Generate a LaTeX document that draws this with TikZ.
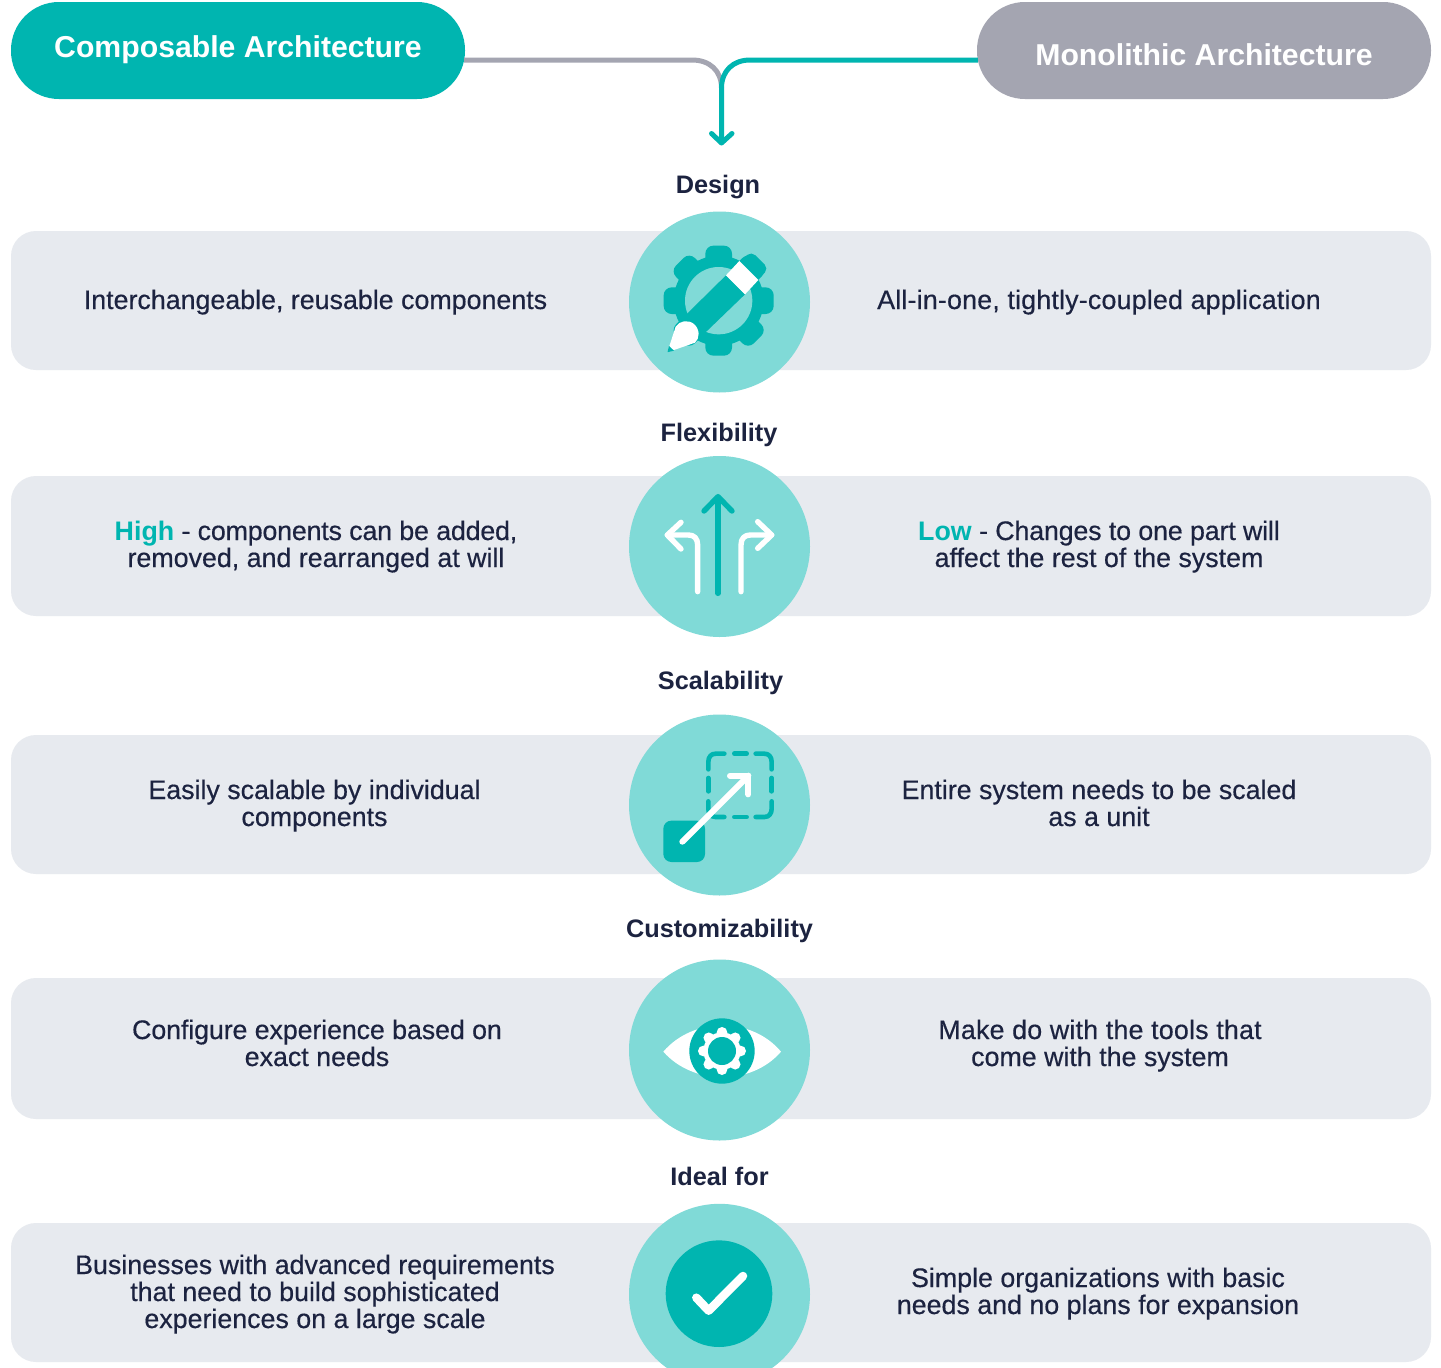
\documentclass[tikz,border=0pt]{standalone}
\usepackage{fontspec}
\setmainfont{Liberation Sans}
\newfontfamily\medfont[FakeBold=0.45]{Liberation Sans}
\newcommand\lst{\rule[-7pt]{0pt}{27pt}}
\newcommand\spc[1]{\addfontfeature{LetterSpace=#1}}
\newcommand\hilite[1]{{\color{teal1}\normalfont\bfseries #1}}
\definecolor{teal1}{HTML}{00B5B0}
\definecolor{teal2}{HTML}{80DAD7}
\definecolor{band}{HTML}{E7EAEF}
\definecolor{greyh}{HTML}{A4A5B1}
\definecolor{ink}{HTML}{1C2340}
\tikzset{
  bandbox/.style={fill=band,rounded corners=25pt,minimum width=1420pt,inner sep=0pt},
  pill/.style={rounded corners=48pt,minimum width=454pt,minimum height=97pt,inner sep=0pt},
  disc/.style={circle,fill=teal2,minimum size=181pt,inner sep=0pt},
  cell/.style={text=ink,align=center,inner sep=0pt,font=\fontsize{26.8}{27}\selectfont\medfont},
  heading/.style={text=ink,inner sep=0pt,font=\fontsize{25.3}{27}\selectfont\bfseries},
  headtxt/.style={text=white,inner sep=0pt,font=\fontsize{30.2}{32}\selectfont\bfseries},
  conn/.style={line width=5pt,line cap=round,line join=round},
  iconz/.style={x=.33333pt,y=-.33333pt},
  thick5/.style={line width=5.4pt,line cap=round,line join=round},
}
\begin{document}
\begin{tikzpicture}[x=1pt,y=-1pt]
\clip (0,0) rectangle (1441,1368);
\fill[white] (0,0) rectangle (1441,1368);
% bands
\node[bandbox,minimum height=139pt] (b1) at (721,300.5) {};
\node[bandbox,minimum height=140pt] (b2) at (721,546) {};
\node[bandbox,minimum height=139pt] (b3) at (721,804.5) {};
\node[bandbox,minimum height=141pt] (b4) at (721,1048.5) {};
\node[bandbox,minimum height=139pt] (b5) at (721,1292.5) {};
% discs
\node[disc] (c1) at (719.5,302) {};
\node[disc] (c2) at (719.5,546.5) {};
\node[disc] (c3) at (719.5,805) {};
\node[disc] (c4) at (719.5,1050) {};
\node[disc] (c5) at (719.5,1294.3) {};
% header pills
\node[pill,fill=teal1] (hA) at (238,50.5) {};
\node[pill,fill=greyh] (hB) at (1204,50.5) {};
\node[headtxt] (tA) at (238,50) {Composable Architecture};
\node[headtxt] (tB) at (1204,55) {Monolithic Architecture};
% connectors
\coordinate (jn) at (721.5,88);
\coordinate (tip) at (721.5,143);
\draw[conn,greyh,line cap=butt] ([shift={(-1pt,-9.5pt)}]hA.east) -- (692,60) .. controls (710,60) and (721.5,71) .. (jn);
\draw[conn,teal1,line cap=butt] ([shift={(1pt,-9.5pt)}]hB.west) -- (750,60) .. controls (733,60) and (721.5,71) .. (jn) -- (tip);
\draw[conn,teal1] (711.5,133.5) -- (tip) -- (732,133.5);
% headings
\node[heading] (h1) at (718,187) {Design};
\node[heading] (h2) at (719,435) {Flexibility};
\node[heading] (h3) at (720.5,683) {Scalability};
\node[heading] (h4) at (719.5,931) {Customizability};
\node[heading] (h5) at (719.5,1176) {Ideal for};
% cell text
\node[cell] (l1) at (315.5,302.5) {\lst Interchangeable, reusable components};
\node[cell] (r1) at (1099,302.5) {\spc{0.73}\lst All-in-one, tightly-coupled application};
\node[cell] (l2) at (316,547) {\spc{-0.7}\lst\hilite{High} - components can be added,\\\lst removed, and rearranged at will};
\node[cell] (r2) at (1099,547) {\spc{-0.6}\lst\hilite{Low} - Changes to one part will\\\lst affect the rest of the system};
\node[cell] (l3) at (314.5,806) {\lst Easily scalable by individual\\\lst components};
\node[cell] (r3) at (1099,806) {\lst Entire system needs to be scaled\\\lst as a unit};
\node[cell] (l4) at (317,1046) {\spc{-0.4}\lst Configure experience based on\\\lst exact needs};
\node[cell] (r4) at (1100,1046) {\spc{0.8}\lst Make do with the tools that\\\lst come with the system};
\node[cell] (l5) at (315,1294.5) {\lst Businesses with advanced requirements\\\lst that need to build sophisticated\\\lst experiences on a large scale};
\node[cell] (r5) at (1098,1294) {\lst Simple organizations with basic\\\lst needs and no plans for expansion};
% icon 1: gear and pencil
\begin{scope}[shift={(620,200)},iconz]
  \foreach \a in {0,45,...,315}
    \fill[teal1,rotate around={\a:(296,302)},rounded corners=8pt] (256,137) rectangle (336,230);
  \fill[teal1] (296,302) circle[radius=135];
  \fill[teal2] (296,302) circle[radius=101];
  \fill[teal1,rounded corners=5pt] (358,183) -- (395,155) -- (445,205) -- (415,240) -- cycle;
  \fill[teal1] (318,226) -- (375,283) -- (235,418) -- (180,362) -- cycle;
  \fill[white] (358,183) -- (415,240) -- (375,283) -- (318,226) -- cycle;
  \fill[white] (142,457) -- (167,380) .. controls (178,362) and (205,358) .. (222,372) .. controls (240,388) and (240,415) .. (225,428) -- cycle;
  \fill[teal1] (142,457) -- (147,438) -- (162,452) -- cycle;
\end{scope}
% icon 2: three arrows
\begin{scope}[shift={(620,450)},iconz]
  \draw[thick5,teal1] (294,430) -- (294,142);
  \draw[thick5,teal1] (252,183) -- (294,140) -- (336,183);
  \draw[thick5,white] (233,425) -- (233,285) .. controls (233,265) and (222,255) .. (205,255) -- (142,255);
  \draw[thick5,white] (183,217) -- (142,255) -- (183,297);
  \draw[thick5,white] (363,425) -- (363,285) .. controls (363,265) and (374,255) .. (391,255) -- (455,255);
  \draw[thick5,white] (413,215) -- (455,255) -- (413,295);
\end{scope}
% icon 3: scale
\begin{scope}[shift={(695,742)},iconz]
  \begin{scope}[teal1,line width=4.6pt,line cap=round,line join=round]
    \draw (40,82) -- (40,60) .. controls (40,45) and (48,35) .. (62,35) -- (88,35);
    \draw (118,35) -- (155,35);
    \draw (182,35) -- (208,35) .. controls (222,35) and (230,45) .. (230,60) -- (230,82);
    \draw (40,108) -- (40,148);
    \draw (230,108) -- (230,148);
    \draw (40,178) -- (40,200) .. controls (40,215) and (48,225) .. (62,225) -- (88,225);
    \draw (118,225) -- (155,225);
    \draw (182,225) -- (208,225) .. controls (222,225) and (230,215) .. (230,200) -- (230,178);
  \end{scope}
\end{scope}
\begin{scope}[shift={(620,710)},iconz]
  \fill[teal1,rounded corners=8pt] (130,332) rectangle (255,456);
  \draw[white,line width=6pt,line cap=round,line join=round] (187,395) -- (385,197);
  \draw[white,line width=6pt,line cap=round,line join=round] (330,197) -- (385,197) -- (385,253);
\end{scope}
% icon 4: eye
\begin{scope}[shift={(620,955)},iconz]
  \fill[white] (130,290) .. controls (220,185) and (395,185) .. (483,290) .. controls (395,392) and (220,392) .. (130,290) -- cycle;
  \fill[teal1] (306,288) circle[radius=98];
  \fill[white] (306,288) circle[radius=56];
  \foreach \a in {0,45,...,315}
    \fill[white] (306,288) ++(\a:56) circle[radius=16];
  \fill[teal1] (306,288) circle[radius=42];
\end{scope}
% icon 5: check
\begin{scope}[shift={(620,1200)},iconz]
  \fill[teal1] (297,281) circle[radius=160];
  \draw[white,line width=8.5pt,line cap=round,line join=round] (229,293) -- (266,332) -- (369,228);
\end{scope}
\end{tikzpicture}
\end{document}
